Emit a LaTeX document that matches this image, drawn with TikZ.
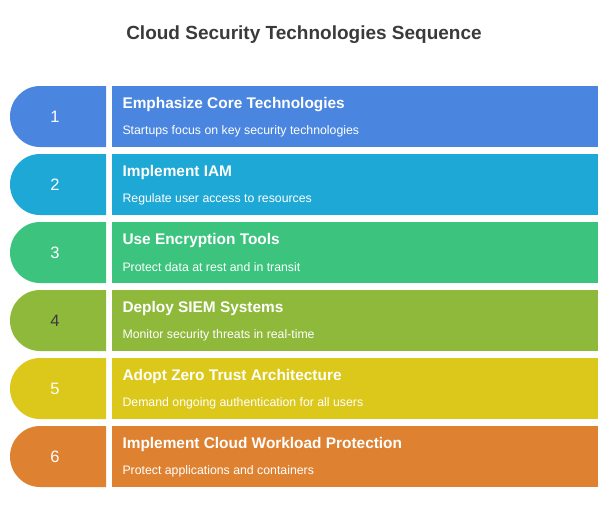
\documentclass[tikz,border=0pt]{standalone}
\usepackage{fontspec}
\setmainfont{Liberation Sans}
\definecolor{c1}{HTML}{4A86E0}
\definecolor{c2}{HTML}{1EA8D6}
\definecolor{c3}{HTML}{3CC47E}
\definecolor{c4}{HTML}{8FB93A}
\definecolor{c5}{HTML}{DCC81A}
\definecolor{c6}{HTML}{DE8232}
\definecolor{ttl}{HTML}{3A3A3A}
\begin{document}
\begin{tikzpicture}[x=1pt,y=-1pt,
  num/.style={font=\fontsize{16.5}{19}\selectfont,text=white},
  head/.style={anchor=west,font=\fontsize{15.4}{18}\selectfont\bfseries,text=white},
  sub/.style={anchor=west,font=\fontsize{12.3}{14}\selectfont,text=white}]
\useasboundingbox (0,0) rectangle (611,515);
\node[font=\fontsize{19}{23}\selectfont\bfseries,text=ttl] (title) at (304,35) {Cloud Security Technologies Sequence};
\foreach \i/\c/\h/\s/\nc in {1/c1/Emphasize Core Technologies/Startups focus on key security technologies/white,
  2/c2/Implement IAM/Regulate user access to resources/white,
  3/c3/Use Encryption Tools/Protect data at rest and in transit/white,
  4/c4/Deploy SIEM Systems/Monitor security threats in real-time/ttl,
  5/c5/Adopt Zero Trust Architecture/Demand ongoing authentication for all users/white,
  6/c6/Implement Cloud Workload Protection/Protect applications and containers/white}{
  \pgfmathsetmacro{\yt}{86+68*(\i-1)}
  \pgfmathsetmacro{\yb}{\yt+61}
  \fill[\c] (106,\yt) -- (40,\yt) arc[start angle=90,end angle=270,x radius=30,y radius=-30.5] -- (106,\yb) -- cycle;
  \node[num,text=\nc] (n\i) at (55,\yt+30.5) {\i};
  \fill[\c] (112,\yt) rectangle (598,\yb);
  \node[head] (h\i) at (119,\yt+19) {\h};
  \node[sub] (s\i) at (119,\yt+45) {\s};
}
\end{tikzpicture}
\end{document}
